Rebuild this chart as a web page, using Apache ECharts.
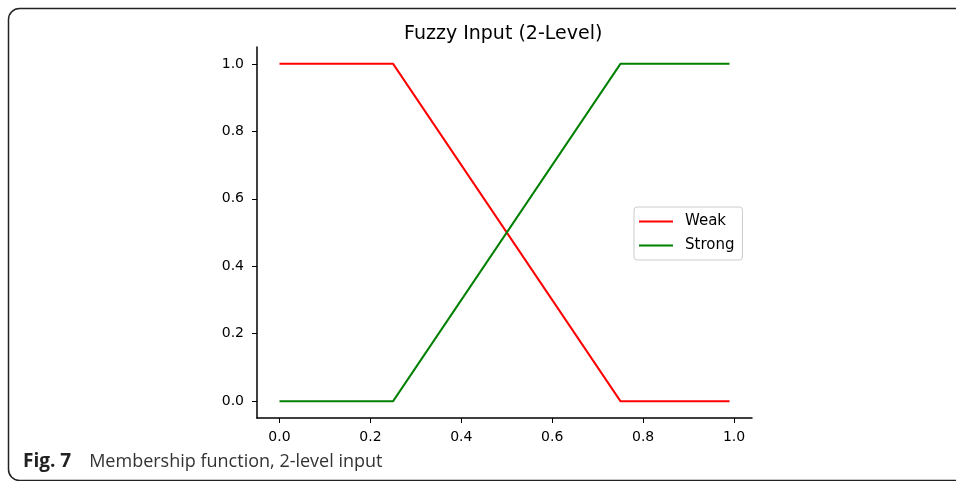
<!DOCTYPE html>
<html>
<head>
<meta charset="utf-8">
<script src="https://cdn.jsdelivr.net/npm/echarts@6/dist/echarts.min.js"></script>
<style>
  html, body { margin: 0; padding: 0; background: #fff; }
  #chart { width: 956px; height: 481px; }
</style>
</head>
<body>
<div id="chart"></div>
<script>
// membership points (x, degree)
const xPoints = [0, 0.25, 0.75, 0.99];
const weak = [1, 1, 0, 0];
const strong = [0, 0, 1, 1];
const xTicks = [0, 0.2, 0.4, 0.6, 0.8, 1.0];
const yTicks = [0, 0.2, 0.4, 0.6, 0.8, 1.0];

const myChart = echarts.init(document.getElementById('chart'));
const font = 'DejaVu Sans';

const option = {
    animation: false,
    title: {
        text: 'Fuzzy Input (2-Level)',
        left: 399,
        top: 20,
        textStyle: { fontFamily: font, fontSize: 19, fontWeight: 'normal', color: '#000' }
    },
    legend: {
        orient: 'vertical',
        left: 634,
        top: 207,
        padding: [7, 8, 7, 5],
        itemGap: 9,
        itemWidth: 34,
        itemHeight: 2,
        icon: 'rect',
        borderColor: '#cccccc',
        borderWidth: 1,
        borderRadius: 3,
        textStyle: { fontFamily: font, fontSize: 15, color: '#000', padding: [0, 0, 0, 7] },
        data: ['Weak', 'Strong']
    },
    grid: { left: 257, right: 204, top: 47, bottom: 63 },
    xAxis: {
        type: 'value',
        min: -0.0495,
        max: 1.0395,
        axisLine: { show: true, onZero: false, lineStyle: { color: '#000', width: 1.5 } },
        axisTick: { show: true, customValues: xTicks, length: 5, lineStyle: { color: '#000' } },
        axisLabel: {
            customValues: xTicks,
            formatter: v => v.toFixed(1),
            fontFamily: font, fontSize: 14, color: '#000', margin: 12
        },
        splitLine: { show: false }
    },
    yAxis: {
        type: 'value',
        min: -0.05,
        max: 1.05,
        axisLine: { show: true, onZero: false, lineStyle: { color: '#000', width: 1.5 } },
        axisTick: { show: true, customValues: yTicks, length: 5, lineStyle: { color: '#000' } },
        axisLabel: {
            customValues: yTicks,
            formatter: v => v.toFixed(1),
            fontFamily: font, fontSize: 14, color: '#000', margin: 13
        },
        splitLine: { show: false }
    },
    series: [
        {
            name: 'Weak',
            type: 'line',
            symbol: 'none',
            color: '#ff0000',
            lineStyle: { width: 2 },
            data: xPoints.map((x, i) => [x, weak[i]])
        },
        {
            name: 'Strong',
            type: 'line',
            symbol: 'none',
            color: '#008000',
            lineStyle: { width: 2 },
            data: xPoints.map((x, i) => [x, strong[i]])
        }
    ],
    graphic: [
        {
            type: 'rect',
            shape: { x: 8.5, y: 8.5, width: 1000, height: 472, r: 11 },
            style: { fill: 'none', stroke: '#222', lineWidth: 1.5 },
            silent: true
        },
        {
            type: 'text',
            left: 23,
            top: 452,
            style: {
                text: '{b|Fig. 7}{n|Membership function, 2-level input}',
                rich: {
                    b: { fontFamily: 'Open Sans', fontWeight: 'bold', fontSize: 19, fill: '#222', padding: [0, 18, 0, 0] },
                    n: { fontFamily: 'Open Sans', fontSize: 18, fill: '#333' }
                }
            }
        }
    ]
};

myChart.setOption(option);
</script>
</body>
</html>
